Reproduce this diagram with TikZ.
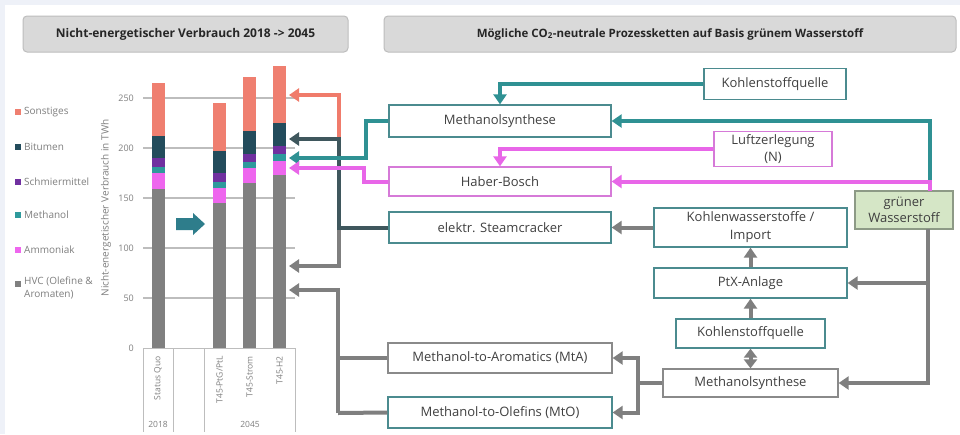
\documentclass[tikz,border=0pt]{standalone}
\usepackage{fontspec}
\setmainfont{Open Sans}
\usetikzlibrary{arrows.meta}

\definecolor{pagebg}{HTML}{EEF1F8}
\definecolor{headfill}{HTML}{D9D9D9}
\definecolor{headline}{HTML}{BDBDBD}
\definecolor{txt}{HTML}{404040}
\definecolor{axtxt}{HTML}{7F7F7F}
\definecolor{grid}{HTML}{BDBDBD}
\definecolor{cSon}{HTML}{EF7F70}
\definecolor{cBit}{HTML}{234C5C}
\definecolor{cSchm}{HTML}{7030A0}
\definecolor{cMeth}{HTML}{2E9A9C}
\definecolor{cAmm}{HTML}{EE66EE}
\definecolor{cHVC}{HTML}{808080}
\definecolor{tealline}{HTML}{2F9193}
\definecolor{magline}{HTML}{E866E8}
\definecolor{salline}{HTML}{F07B6B}
\definecolor{darkline}{HTML}{3F575D}
\definecolor{grayline}{HTML}{7F7F7F}
\definecolor{tealbox}{HTML}{4B8B8F}
\definecolor{magbox}{HTML}{D67AD8}
\definecolor{graybox}{HTML}{8A8A8A}
\definecolor{greenfill}{HTML}{D5E6C6}
\definecolor{greenline}{HTML}{8D9A86}
\definecolor{blockarrow}{HTML}{2E7D8B}

\tikzset{
  head/.style={draw=headline, line width=1pt, fill=headfill, rounded corners=4pt,
    font=\fontsize{11.5}{13}\selectfont\bfseries, text=black!85},
  pbox/.style={draw=tealbox, line width=1.3pt, fill=white, inner sep=0pt,
    text=txt, font=\fontsize{13}{17}\selectfont, align=center},
  mbox/.style={pbox, draw=magbox},
  gbox/.style={pbox, draw=graybox},
  flow/.style={line width=4pt, -{Triangle[width=13pt,length=10pt]}},
  twoway/.style={line width=4pt, {Triangle[width=13pt,length=9pt]}-{Triangle[width=13pt,length=9pt]}},
  plain/.style={line width=4pt},
  legtxt/.style={anchor=west, text=axtxt, font=\fontsize{10}{13}\selectfont, inner sep=0pt, align=left},
  legbox/.style={minimum size=6pt, inner sep=0pt},
  axlab/.style={anchor=east, text=axtxt, font=\fontsize{9}{11}\selectfont, inner sep=0pt},
  catlab/.style={rotate=90, anchor=east, text=axtxt, font=\fontsize{8.5}{10}\selectfont, inner sep=0pt},
}

\begin{document}
\begin{tikzpicture}[x=1pt,y=-1pt]
\useasboundingbox (0,0) rectangle (960,434);
\fill[pagebg] (0,0) rectangle (960,434);
\fill[white] (5,5) rectangle (960,434);

% section headers
\node[head, minimum width=325pt, minimum height=36pt, font=\fontsize{12}{14}\selectfont\bfseries] (h1) at (185.5,34) {Nicht-energetischer Verbrauch 2018 -> 2045};
\node[head, minimum width=572pt, minimum height=36pt] (h2) at (670,34) {Mögliche CO\textsubscript{2}-neutrale Prozessketten auf Basis grünem Wasserstoff};

% legend
\foreach \yy/\col/\lab in {112/cSon/Sonstiges, 147/cBit/Bitumen, 182/cSchm/Schmiermittel, 215/cMeth/Methanol, 250/cAmm/Ammoniak}{
  \node[legbox, fill=\col] (lg\col) at (18,\yy) {};
  \node[legtxt] (lt\col) at (24,\yy) {\lab};
}
\node[legbox, fill=cHVC] (lgHVC) at (18,284) {};
\node[legtxt, anchor=north west] (ltHVC) at (24,277) {HVC (Olefine \&\\Aromaten)};

% value axis
\node[rotate=90, text=axtxt, font=\fontsize{10}{12}\selectfont] (ytitle) at (106,208) {Nicht-energetischer Verbrauch in TWh};
\foreach \v in {50,100,150,200,250}{
  \draw[grid, line width=1.2pt] (143,348-\v) -- (295,348-\v);
}
\foreach \v in {0,50,100,150,200,250}{
  \node[axlab] (yl\v) at (134,348-\v) {\v};
}

% category table
\draw[grid, line width=1pt] (143,348) -- (295,348);
\foreach \xx in {143,173,204,295}{
  \draw[grid, line width=1pt] (\xx,348) -- (\xx,432);
}
\node[catlab] (c1) at (158,356) {Status Quo};
\node[catlab] (c2) at (219.5,356) {T45-PtG/PtL};
\node[catlab] (c3) at (249.5,356) {T45-Strom};
\node[catlab] (c4) at (279.5,356) {T45-H2};
\node[text=axtxt, font=\fontsize{8.5}{10}\selectfont, inner sep=0pt] (yr1) at (158,424) {2018};
\node[text=axtxt, font=\fontsize{8.5}{10}\selectfont, inner sep=0pt] (yr2) at (250,424) {2045};

% stacked bars
\foreach \xx/\a/\b/\c/\d/\e/\f in {158/159/175/181/190/212/265, 219.5/145/160/166/175/197/245, 249.5/165/180/186/194/217/271, 279.5/173/187/194/202/225/282}{
  \fill[cHVC]  (\xx-6.5,348)    rectangle (\xx+6.5,348-\a);
  \fill[cAmm]  (\xx-6.5,348-\a) rectangle (\xx+6.5,348-\b);
  \fill[cMeth] (\xx-6.5,348-\b) rectangle (\xx+6.5,348-\c);
  \fill[cSchm] (\xx-6.5,348-\c) rectangle (\xx+6.5,348-\d);
  \fill[cBit]  (\xx-6.5,348-\d) rectangle (\xx+6.5,348-\e);
  \fill[cSon]  (\xx-6.5,348-\e) rectangle (\xx+6.5,348-\f);
}

% transition arrow 2018 -> 2045
\fill[blockarrow] (176,218) -- (193,218) -- (193,213) -- (205,224) -- (193,235) -- (193,230) -- (176,230) -- cycle;

% process boxes
\node[pbox, minimum width=142pt, minimum height=31pt] (ks1) at (775,84) {Kohlenstoffquelle};
\node[pbox, minimum width=222pt, minimum height=32pt] (ms1) at (500,121) {Methanolsynthese};
\node[mbox, minimum width=118pt, minimum height=35pt, font=\fontsize{13}{17}\selectfont] (lz) at (773,149) {Luftzerlegung\\(N)};
\node[mbox, minimum width=222pt, minimum height=29pt] (hb) at (500,181.5) {Haber-Bosch};
\node[pbox, minimum width=222pt, minimum height=31pt] (sc) at (500,227.5) {elektr. Steamcracker};
\node[pbox, minimum width=193pt, minimum height=39pt, font=\fontsize{13}{18}\selectfont] (kw) at (750.5,227.5) {Kohlenwasserstoffe /\\Import};
\node[pbox, draw=greenline, fill=greenfill, minimum width=98pt, minimum height=38pt, font=\fontsize{13}{16}\selectfont] (gw) at (904,210) {grüner\\Wasserstoff};
\node[pbox, minimum width=193pt, minimum height=30pt] (ptx) at (750.5,283) {PtX-Anlage};
\node[pbox, minimum width=149pt, minimum height=29pt] (ks2) at (750.5,333.5) {Kohlenstoffquelle};
\node[gbox, minimum width=175pt, minimum height=28pt] (ms2) at (750.5,383) {Methanolsynthese};
\node[gbox, minimum width=224pt, minimum height=30pt] (mta) at (500,358) {Methanol-to-Aromatics (MtA)};
\node[pbox, minimum width=224pt, minimum height=31pt] (mto) at (500,412.5) {Methanol-to-Olefins (MtO)};

% arrow targets at the 2045 bars
\coordinate (tS) at (289,95);
\coordinate (tB) at (289,139);
\coordinate (tM) at (289,158);
\coordinate (tA) at (289,168);
\coordinate (tH1) at (289,266);
\coordinate (tH2) at (289,290);
% junctions
\coordinate (jSC) at (339,227.5);
\coordinate (jMt) at (338,413);
\coordinate (jMs) at (638,383);
\coordinate (gwTop) at (930,191);
\coordinate (gwBot) at (928,229);
\coordinate (gwPtx) at (928,283);

% hydrogen supply
\draw[flow, tealline] (930,184) |- (ms1.east);
\draw[flow, magline] (gwTop) |- (hb.east);
\draw[flow, grayline] (gwBot) |- (ms2.east);
\draw[flow, grayline] (gwPtx) -- (ptx.east);

% feedstocks into the upper chains
\draw[flow, tealline] (ks1.west) -| (ms1.north);
\draw[flow, magline] (lz.west) -| (hb.north);
\draw[flow, grayline] (kw.west) -- (sc.east);

% lower chain
\draw[flow, grayline] (ptx.north) -- (kw.south);
\draw[flow, grayline] (ks2.north) -- (ptx.south);
\draw[twoway, grayline] (ks2.south) -- (ms2.north);
\draw[plain, grayline] (ms2.west) -- (jMs);
\draw[flow, grayline] (jMs) |- (mta.east);
\draw[flow, grayline] (jMs) |- (mto.east);

% products to the bars
\draw[flow, grayline] (jSC) |- (tH1);
\draw[plain, grayline] (mto.west) -- (jMt);
\draw[plain, grayline] (mta.west) -- (jMt |- mta.west);
\draw[flow, grayline] (jMt) |- (tH2);
\draw[flow, darkline] (sc.west) -- (jSC) |- (tB);
\draw[flow, salline] (339,137) |- (tS);
\draw[flow, tealline] (ms1.west) -- ++(-22,0) |- (tM);
\draw[flow, magline] (hb.west) -- ++(-24,0) |- (tA);
\end{tikzpicture}
\end{document}
